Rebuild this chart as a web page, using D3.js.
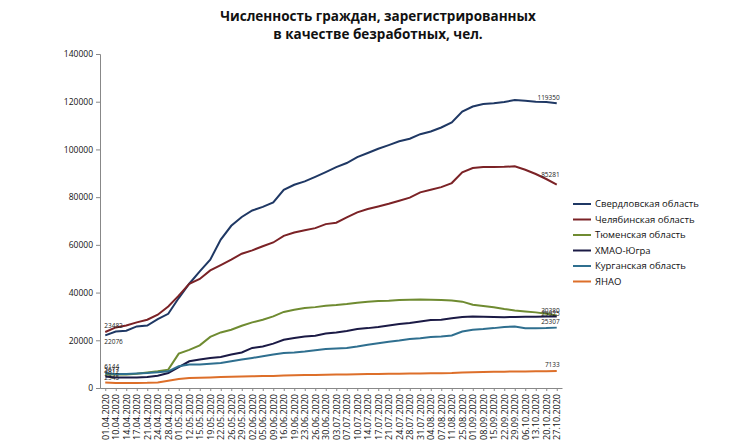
<!DOCTYPE html>
<meta charset="utf-8">
<title>Численность граждан, зарегистрированных в качестве безработных</title>
<style>
body { margin: 0; background: #fff; }
text { font-family: "Open Sans", "Liberation Sans", sans-serif; }
.title { font-weight: bold; font-size: 13.5px; fill: #111; }
.axis text { font-size: 8.5px; fill: #111; }
.xaxis text { font-size: 9px; }
.axis path, .axis line { stroke: #888; }
.lbl { font-size: 6.5px; fill: #222; }
.legend text { font-size: 9.5px; fill: #111; }
</style>
<body>
<div id="my_dataviz"></div>
<script src="https://d3js.org/d3.v7.min.js"></script>
<script>

// dates on the x axis
var dates = ["01.04.2020","10.04.2020","14.04.2020","17.04.2020","21.04.2020","24.04.2020","28.04.2020",
  "01.05.2020","12.05.2020","15.05.2020","19.05.2020","22.05.2020","26.05.2020","29.05.2020",
  "02.06.2020","05.06.2020","09.06.2020","16.06.2020","19.06.2020","23.06.2020","26.06.2020","30.06.2020",
  "03.07.2020","07.07.2020","10.07.2020","14.07.2020","17.07.2020","21.07.2020","24.07.2020","28.07.2020","31.07.2020",
  "04.08.2020","07.08.2020","11.08.2020","25.08.2020",
  "01.09.2020","08.09.2020","15.09.2020","22.09.2020","29.09.2020",
  "06.10.2020","13.10.2020","20.10.2020","27.10.2020"];

var seriesNames = ["Свердловская область", "Челябинская область", "Тюменская область",
  "ХМАО-Югра", "Курганская область", "ЯНАО"];

var sverdlovsk = [22076, 23700, 24000, 25800, 26200, 28900, 31100, 37700, 43700, 48900, 53800, 62200, 68000, 71700,
  74400, 75900, 77800, 83100, 85200, 86600, 88500, 90500, 92600, 94300, 96800, 98500, 100300, 101800, 103400,
  104500, 106400, 107500, 109200, 111300, 115900, 118000, 119000, 119400, 119900, 120700, 120400, 120000, 119900, 119350];

var chelyabinsk = [23482, 25400, 26200, 27500, 28600, 30700, 34200, 38700, 43700, 45700, 49300, 51500, 53800, 56300,
  57700, 59400, 61000, 63800, 65200, 66100, 67000, 68700, 69300, 71500, 73600, 75000, 76100, 77200, 78500,
  79800, 82000, 83100, 84200, 85900, 90400, 92200, 92600, 92600, 92700, 92900, 91500, 89700, 87600, 85281];

var tyumen = [5617, 5700, 5700, 6000, 6500, 7000, 7700, 14400, 16000, 17900, 21400, 23300, 24400, 26100,
  27500, 28600, 30000, 31900, 32800, 33500, 33900, 34500, 34800, 35200, 35700, 36200, 36500, 36600, 36900,
  37000, 37100, 37000, 36900, 36700, 36200, 34900, 34400, 33800, 33100, 32500, 32100, 31700, 31100, 30380];

var hmao = [4812, 4450, 4450, 4450, 4600, 5150, 6300, 8800, 11200, 11900, 12600, 13000, 14000, 14900,
  16800, 17400, 18600, 20200, 21000, 21600, 21900, 22800, 23300, 23900, 24700, 25100, 25600, 26200, 26800,
  27200, 27900, 28500, 28600, 29200, 29800, 30000, 29900, 29800, 29700, 29800, 29900, 29900, 29950, 29925];

var kurgan = [6144, 5900, 5900, 6100, 6300, 6600, 7000, 9100, 9800, 9800, 10200, 10500, 11200, 11900,
  12600, 13300, 14000, 14700, 14900, 15300, 15800, 16300, 16600, 16800, 17400, 18100, 18800, 19400, 19900,
  20500, 20900, 21400, 21600, 22000, 23700, 24400, 24700, 25100, 25600, 25800, 25000, 25000, 25100, 25307];

var yanao = [2345, 2100, 2100, 2100, 2150, 2300, 3050, 3750, 4200, 4300, 4450, 4600, 4700, 4800,
  4900, 5000, 5050, 5200, 5300, 5400, 5500, 5600, 5650, 5700, 5800, 5850, 5900, 5950, 6000,
  6050, 6100, 6150, 6200, 6300, 6500, 6600, 6700, 6800, 6850, 6900, 6950, 7000, 7050, 7133];

var yTicks = [0, 20000, 40000, 60000, 80000, 100000, 120000, 140000];

var colors = ["#1f3864", "#7b2226", "#6f8b31", "#1b1a45", "#2f6f8f", "#dd6f2a"];

var dataReady = [sverdlovsk, chelyabinsk, tyumen, hmao, kurgan, yanao].map(function(vals, k) {
  return { name: seriesNames[k], color: colors[k], values: vals };
});

var W = 735, H = 441;
var svg = d3.select("#my_dataviz").append("svg")
  .attr("width", W).attr("height", H);

// title
svg.append("text").attr("class", "title")
  .attr("x", 378).attr("y", 21).attr("text-anchor", "middle")
  .text("Численность граждан, зарегистрированных");
svg.append("text").attr("class", "title")
  .attr("x", 378).attr("y", 39).attr("text-anchor", "middle")
  .text("в качестве безработных, чел.");

var x = d3.scalePoint().domain(dates).range([100, 562]).padding(0.5);
var y = d3.scaleLinear().domain([0, 140000]).range([388, 54]);

// y axis
svg.append("g").attr("class", "axis")
  .attr("transform", "translate(100,0)")
  .call(d3.axisLeft(y).tickValues(yTicks).tickSize(4).tickPadding(3).tickFormat(d3.format("d")));

// x axis
var xAxis = svg.append("g").attr("class", "axis xaxis")
  .attr("transform", "translate(0,388)")
  .call(d3.axisBottom(x).tickSize(3).tickSizeOuter(0));
xAxis.selectAll("text")
  .attr("transform", "rotate(-90)")
  .attr("text-anchor", "end")
  .attr("x", -6).attr("y", 0).attr("dy", "0.32em");

// lines
var line = d3.line()
  .x(function(d, i) { return x(dates[i]); })
  .y(function(d) { return y(d); });

svg.selectAll("myLines")
  .data(dataReady)
  .enter()
  .append("path")
    .attr("d", function(d) { return line(d.values); })
    .attr("stroke", function(d) { return d.color; })
    .style("stroke-width", 2)
    .style("fill", "none");

// value labels at the start and the end of each line
var last = dates.length - 1;
var startDy = [9, -4, -3, -3, -4, -2];
var endDy = [-3, -8, -3, -1, -4, -4];

svg.selectAll("startLabels")
  .data(dataReady)
  .enter()
  .append("text").attr("class", "lbl")
    .attr("x", x(dates[0]) - 1)
    .attr("y", function(d, k) { return y(d.values[0]) + startDy[k]; })
    .text(function(d) { return d.values[0]; });

svg.selectAll("endLabels")
  .data(dataReady)
  .enter()
  .append("text").attr("class", "lbl")
    .attr("x", x(dates[last]) + 3)
    .attr("y", function(d, k) { return y(d.values[last]) + endDy[k]; })
    .attr("text-anchor", "end")
    .text(function(d) { return d.values[last]; });

// legend
var legend = svg.append("g").attr("class", "legend");
var lg = legend.selectAll("g")
  .data(dataReady)
  .enter()
  .append("g")
    .attr("transform", function(d, i) { return "translate(573," + (204 + i * 15.5) + ")"; });
lg.append("line")
  .attr("x1", 0).attr("x2", 18)
  .attr("stroke", function(d) { return d.color; })
  .style("stroke-width", 2);
lg.append("text")
  .attr("x", 22).attr("dy", "0.35em")
  .text(function(d) { return d.name; });

</script>
</body>
